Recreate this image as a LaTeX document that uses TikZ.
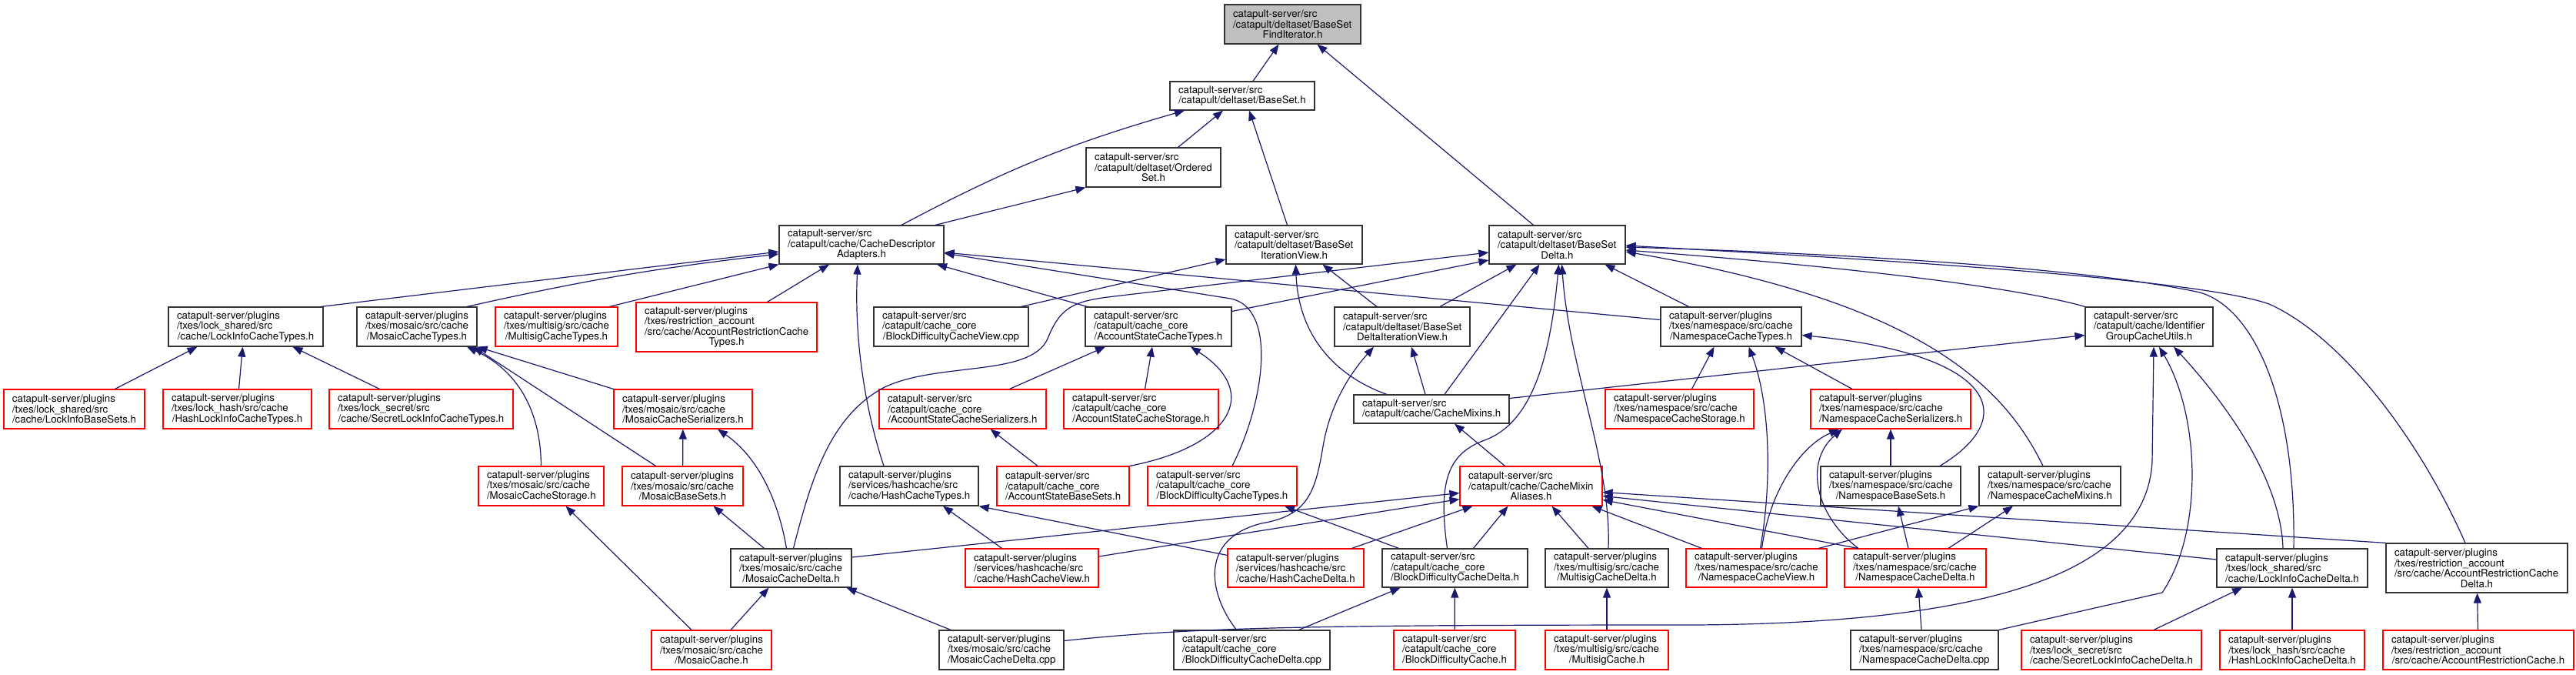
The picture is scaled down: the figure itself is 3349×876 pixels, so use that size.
\documentclass[tikz,border=0pt]{standalone}
\usepackage{fontspec}
\setmainfont{TeX Gyre Heros}
\usetikzlibrary{arrows.meta,calc}
\definecolor{edgecol}{RGB}{25,25,112}
\hyphenpenalty=10000
\exhyphenpenalty=10000
\newcommand{\lastln}[1]{\leavevmode\vrule width 0pt\nobreak\hskip 0pt plus 1filll\relax #1\nobreak\hskip 0pt plus 1filll\relax\vrule width 0pt}
\newcommand{\mynode}[7]{%
 \pgfmathsetmacro{\ndW}{#4-#2}\pgfmathsetmacro{\ndH}{#5-#3}%
 \pgfmathsetmacro{\ndX}{(#2+#4)/2}\pgfmathsetmacro{\ndY}{(#3+#5)/2}%
 \pgfmathsetmacro{\ndT}{#4-#2-22}%
 \node[#6, minimum width=\ndW pt, minimum height=\ndH pt, text width=\ndT pt] (#1) at (\ndX,\ndY) {#7};}
\begin{document}
\begin{tikzpicture}[x=1pt,y=-1pt,
  box/.style={draw=black!80, line width=1.2pt, inner xsep=11pt, inner ysep=0pt, align=left,
    font=\fontsize{13.3}{13.5}\selectfont, fill=white},
  redbox/.style={box, draw=red},
  rootbox/.style={box, fill=black!25},
  dep/.style={draw=edgecol, line width=1.2pt, line join=round, -{Triangle[length=13pt,width=10pt]}}]
\fill[white] (0,0) rectangle (3349,876);
\useasboundingbox (0,0) rectangle (3349,876);
% row 0-3
\mynode{root}{1592}{6}{1769}{57}{rootbox}{catapult-server/src\\/catapult/deltaset/BaseSet\\\lastln{FindIterator.h}}
\mynode{BaseSet}{1521}{106}{1709}{143}{box}{catapult-server/src\\\lastln{/catapult/deltaset/BaseSet.h}}
\mynode{OrderedSet}{1412}{192}{1587}{243}{box}{catapult-server/src\\/catapult/deltaset/Ordered\\\lastln{Set.h}}
\mynode{CDA}{1013}{293}{1227}{343}{box}{catapult-server/src\\/catapult/cache/CacheDescriptor\\\lastln{Adapters.h}}
\mynode{BSIV}{1594}{293}{1771}{343}{box}{catapult-server/src\\/catapult/deltaset/BaseSet\\\lastln{IterationView.h}}
\mynode{BSD}{1936}{293}{2113}{343}{box}{catapult-server/src\\/catapult/deltaset/BaseSet\\\lastln{Delta.h}}
% row 4
\mynode{LICT}{219}{399}{420}{450}{box}{catapult-server/plugins\\/txes/lock\_shared/src\\\lastln{/cache/LockInfoCacheTypes.h}}
\mynode{MCT}{464}{399}{620}{450}{box}{catapult-server/plugins\\/txes/mosaic/src/cache\\\lastln{/MosaicCacheTypes.h}}
\mynode{MuCT}{644}{399}{803}{450}{redbox}{catapult-server/plugins\\/txes/multisig/src/cache\\\lastln{/MultisigCacheTypes.h}}
\mynode{ARCT}{827}{393}{1062}{457}{redbox}{catapult-server/plugins\\/txes/restriction\_account\\/src/cache/AccountRestrictionCache\\\lastln{Types.h}}
\mynode{BDCV}{1136}{399}{1337}{450}{box}{catapult-server/src\\/catapult/cache\_core\\\lastln{/BlockDifficultyCacheView.cpp}}
\mynode{ASCT}{1411}{399}{1601}{450}{box}{catapult-server/src\\/catapult/cache\_core\\\lastln{/AccountStateCacheTypes.h}}
\mynode{BSDIV}{1735}{399}{1911}{450}{box}{catapult-server/src\\/catapult/deltaset/BaseSet\\\lastln{DeltaIterationView.h}}
\mynode{NCT}{2159}{399}{2342}{450}{box}{catapult-server/plugins\\/txes/namespace/src/cache\\\lastln{/NamespaceCacheTypes.h}}
\mynode{IGCU}{2711}{399}{2877}{450}{box}{catapult-server/src\\/catapult/cache/Identifier\\\lastln{GroupCacheUtils.h}}
% row 5
\mynode{LIBS}{5}{506}{188}{557}{redbox}{catapult-server/plugins\\/txes/lock\_shared/src\\\lastln{/cache/LockInfoBaseSets.h}}
\mynode{HLICT}{212}{506}{405}{557}{redbox}{catapult-server/plugins\\/txes/lock\_hash/src/cache\\\lastln{/HashLockInfoCacheTypes.h}}
\mynode{SLICT}{428}{506}{667}{557}{redbox}{catapult-server/plugins\\/txes/lock\_secret/src\\\lastln{/cache/SecretLockInfoCacheTypes.h}}
\mynode{MCS}{798}{506}{978}{557}{redbox}{catapult-server/plugins\\/txes/mosaic/src/cache\\\lastln{/MosaicCacheSerializers.h}}
\mynode{ASCS}{1143}{506}{1360}{557}{redbox}{catapult-server/src\\/catapult/cache\_core\\\lastln{/AccountStateCacheSerializers.h}}
\mynode{ASCSt}{1383}{506}{1584}{557}{redbox}{catapult-server/src\\/catapult/cache\_core\\\lastln{/AccountStateCacheStorage.h}}
\mynode{CM}{1760}{513}{1962}{550}{box}{catapult-server/src\\\lastln{/catapult/cache/CacheMixins.h}}
\mynode{NCSt}{2087}{506}{2280}{557}{redbox}{catapult-server/plugins\\/txes/namespace/src/cache\\\lastln{/NamespaceCacheStorage.h}}
\mynode{NCSer}{2354}{506}{2562}{557}{redbox}{catapult-server/plugins\\/txes/namespace/src/cache\\\lastln{/NamespaceCacheSerializers.h}}
% row 6
\mynode{MCSt}{622}{606}{785}{657}{redbox}{catapult-server/plugins\\/txes/mosaic/src/cache\\\lastln{/MosaicCacheStorage.h}}
\mynode{MBS}{809}{606}{966}{657}{redbox}{catapult-server/plugins\\/txes/mosaic/src/cache\\\lastln{/MosaicBaseSets.h}}
\mynode{HCT}{1092}{606}{1272}{657}{box}{catapult-server/plugins\\/services/hashcache/src\\\lastln{/cache/HashCacheTypes.h}}
\mynode{ASBS}{1296}{606}{1468}{657}{redbox}{catapult-server/src\\/catapult/cache\_core\\\lastln{/AccountStateBaseSets.h}}
\mynode{BDCT}{1492}{606}{1686}{657}{redbox}{catapult-server/src\\/catapult/cache\_core\\\lastln{/BlockDifficultyCacheTypes.h}}
\mynode{CMA}{1898}{606}{2083}{657}{redbox}{catapult-server/src\\/catapult/cache/CacheMixin\\\lastln{Aliases.h}}
\mynode{NBS}{2367}{606}{2549}{657}{box}{catapult-server/plugins\\/txes/namespace/src/cache\\\lastln{/NamespaceBaseSets.h}}
\mynode{NCM}{2573}{606}{2757}{657}{box}{catapult-server/plugins\\/txes/namespace/src/cache\\\lastln{/NamespaceCacheMixins.h}}
% row 7
\mynode{MCD}{950}{713}{1107}{763}{box}{catapult-server/plugins\\/txes/mosaic/src/cache\\\lastln{/MosaicCacheDelta.h}}
\mynode{HCV}{1255}{713}{1428}{763}{redbox}{catapult-server/plugins\\/services/hashcache/src\\\lastln{/cache/HashCacheView.h}}
\mynode{HCD}{1596}{713}{1773}{763}{redbox}{catapult-server/plugins\\/services/hashcache/src\\\lastln{/cache/HashCacheDelta.h}}
\mynode{BDCD}{1797}{713}{1986}{763}{box}{catapult-server/src\\/catapult/cache\_core\\\lastln{/BlockDifficultyCacheDelta.h}}
\mynode{MuCD}{2009}{713}{2169}{763}{box}{catapult-server/plugins\\/txes/multisig/src/cache\\\lastln{/MultisigCacheDelta.h}}
\mynode{NCV}{2192}{713}{2375}{763}{redbox}{catapult-server/plugins\\/txes/namespace/src/cache\\\lastln{/NamespaceCacheView.h}}
\mynode{NCD}{2398}{713}{2582}{763}{redbox}{catapult-server/plugins\\/txes/namespace/src/cache\\\lastln{/NamespaceCacheDelta.h}}
\mynode{LICD}{2882}{713}{3078}{763}{box}{catapult-server/plugins\\/txes/lock\_shared/src\\\lastln{/cache/LockInfoCacheDelta.h}}
\mynode{ARCD}{3102}{706}{3338}{770}{box}{catapult-server/plugins\\/txes/restriction\_account\\/src/cache/AccountRestrictionCache\\\lastln{Delta.h}}
% row 8
\mynode{MC}{847}{819}{1003}{870}{redbox}{catapult-server/plugins\\/txes/mosaic/src/cache\\\lastln{/MosaicCache.h}}
\mynode{MCDcpp}{1221}{819}{1383}{870}{box}{catapult-server/plugins\\/txes/mosaic/src/cache\\\lastln{/MosaicCacheDelta.cpp}}
\mynode{BDCDcpp}{1526}{819}{1729}{870}{box}{catapult-server/src\\/catapult/cache\_core\\\lastln{/BlockDifficultyCacheDelta.cpp}}
\mynode{BDC}{1812}{819}{1970}{870}{redbox}{catapult-server/src\\/catapult/cache\_core\\\lastln{/BlockDifficultyCache.h}}
\mynode{MuC}{2009}{819}{2169}{870}{redbox}{catapult-server/plugins\\/txes/multisig/src/cache\\\lastln{/MultisigCache.h}}
\mynode{NCDcpp}{2406}{819}{2598}{870}{box}{catapult-server/plugins\\/txes/namespace/src/cache\\\lastln{/NamespaceCacheDelta.cpp}}
\mynode{SLICD}{2628}{819}{2862}{870}{redbox}{catapult-server/plugins\\/txes/lock\_secret/src\\\lastln{/cache/SecretLockInfoCacheDelta.h}}
\mynode{HLICD}{2886}{819}{3074}{870}{redbox}{catapult-server/plugins\\/txes/lock\_hash/src/cache\\\lastln{/HashLockInfoCacheDelta.h}}
\mynode{ARC}{3098}{819}{3346}{870}{redbox}{catapult-server/plugins\\/txes/restriction\_account\\\lastln{/src/cache/AccountRestrictionCache.h}}
% ---------- edges ----------
% to root
\draw[dep] ($(BaseSet.north)+(14,0)$) -- ($(root.south)+(-18,0)$);
\draw[dep] ($(BSD.north)+(-31,0)$) -- ($(root.south)+(32,0)$);
% to BaseSet
\draw[dep] ($(CDA.north)+(52,0)$) to[bend left=6] ($(BaseSet.south)+(-75,0)$);
\draw[dep] ($(OrderedSet.north)+(32,0)$) -- ($(BaseSet.south)+(-25,0)$);
\draw[dep] ($(BSIV.north)+(-9,0)$) -- ($(BaseSet.south)+(9,0)$);
% to OrderedSet
\draw[dep] ($(CDA.north)+(96,0)$) -- (OrderedSet.south west);
% to CDA
\draw[dep] ($(LICT.north)+(98,0)$) -- ($(CDA.west)+(0,9)$);
\draw[dep] ($(MCT.north)+(65,0)$) to[bend left=3] ($(CDA.west)+(0,12)$);
\draw[dep] ($(MuCT.north)+(69,0)$) -- (CDA.south west);
\draw[dep] ($(ARCT.north)+(53,0)$) -- ($(CDA.south)+(-42,0)$);
\draw[dep] ($(HCT.north)+(-33,0)$) .. controls +(-20,-60) and +(-5,110) .. ($(CDA.south)+(-5,0)$);
\draw[dep] ($(ASCT.north west)+(3,0)$) -- ($(CDA.south)+(98,0)$);
\draw[dep] ($(NCT.west)+(0,-9)$) -- ($(CDA.east)+(0,10)$);
\draw[dep] ($(BDCT.north)+(13,0)$) .. controls (1645,520) and (1660,400) .. (1600,388) -- ($(CDA.east)+(0,11)$);
% to BSIV
\draw[dep] ($(BDCV.north)+(91,0)$) -- ($(BSIV.west)+(0,19)$);
\draw[dep] ($(BSDIV.north)+(-33,0)$) -- ($(BSIV.south)+(37,0)$);
\draw[dep] ($(CM.north)+(-58,0)$) .. controls (1740,490) and (1688,440) .. ($(BSIV.south)+(2,0)$);
% to BSD
\draw[dep] ($(MCD.north)+(3,0)$) .. controls (1055,620) and (1080,540) .. (1150,503) .. controls (1220,470) and (1340,490) .. (1362,440) .. controls (1378,400) and (1395,392) .. (1440,386) -- ($(BSD.west)+(0,10)$);
\draw[dep] ($(ASCT.east)+(0,-20)$) -- ($(BSD.west)+(0,20)$);
\draw[dep] ($(BSDIV.north)+(49,0)$) -- ($(BSD.south)+(-53,0)$);
\draw[dep] ($(CM.north)+(17,0)$) -- ($(BSD.south)+(-23,0)$);
\draw[dep] ($(BDCD.north)+(-10,0)$) .. controls (1870,630) and (1880,590) .. (1930,572) .. controls (1990,550) and (2015,470) .. ($(BSD.south)+(2,0)$);
\draw[dep] ($(MuCD.north)+(2,0)$) .. controls (2095,600) and (2040,480) .. ($(BSD.south)+(6,0)$);
\draw[dep] ($(NCT.north)+(-55,0)$) -- ($(BSD.south)+(62,0)$);
\draw[dep] (IGCU.north west) .. controls (2640,378) and (2450,350) .. ($(BSD.east)+(0,7)$);
\draw[dep] ($(NCM.north)+(-9,0)$) .. controls (2600,490) and (2480,390) .. ($(BSD.east)+(0,9)$);
\draw[dep] ($(LICD.north)+(2,0)$) .. controls (2985,520) and (2930,400) .. (2860,380) .. controls (2700,345) and (2350,328) .. ($(BSD.east)+(0,3)$);
\draw[dep] ($(ARCD.north)+(-15,0)$) .. controls (3150,580) and (3050,440) .. (2950,395) .. controls (2850,360) and (2400,335) .. ($(BSD.east)+(0,1)$);
% to LICT
\draw[dep] ($(LIBS.north)+(53,0)$) -- ($(LICT.south)+(-63,0)$);
\draw[dep] ($(HLICT.north)+(2,0)$) -- ($(LICT.south)+(-4,0)$);
\draw[dep] ($(SLICT.north)+(-54,0)$) -- ($(LICT.south)+(61,0)$);
% to MCT
\draw[dep] (MCSt.north) .. controls (703,530) and (670,480) .. ($(MCT.south)+(65,0)$);
\draw[dep] ($(MBS.north)+(-35,0)$) -- ($(MCT.south east)+(-5,0)$);
\draw[dep] (MCS.north west) -- (MCT.south east);
% mosaic
\draw[dep] (MBS) -- (MCS);
\draw[dep] ($(MCD.north)+(-6,0)$) .. controls (1010,640) and (980,590) .. ($(MCS.south)+(45,0)$);
\draw[dep] ($(MCD.north)+(-35,0)$) -- ($(MBS.south)+(40,0)$);
\draw[dep] ($(MC.north)+(-26,0)$) -- ($(MCSt.south)+(32,0)$);
\draw[dep] ($(MC.north)+(25,0)$) -- ($(MCD.south)+(-29,0)$);
\draw[dep] ($(MCDcpp.north)+(-66,0)$) -- ($(MCD.south)+(72,0)$);
% to CMA
\draw[dep] ($(MCD.east)+(0,-14)$) -- ($(CMA.west)+(0,9)$);
\draw[dep] ($(HCV.east)+(0,-15)$) -- ($(CMA.west)+(0,17)$);
\draw[dep] ($(HCD.north)+(73,0)$) -- ($(CMA.south)+(-76,0)$);
\draw[dep] ($(BDCD.north)+(24,0)$) -- ($(CMA.south)+(-30,0)$);
\draw[dep] ($(MuCD.north)+(-24,0)$) -- ($(CMA.south)+(27,0)$);
\draw[dep] ($(NCV.north)+(-71,0)$) -- ($(CMA.south)+(79,0)$);
\draw[dep] ($(NCD.north west)+(18,0)$) -- ($(CMA.east)+(0,18)$);
\draw[dep] ($(LICD.west)+(0,-11)$) -- ($(CMA.east)+(0,13)$);
\draw[dep] (ARCD.north west) -- ($(CMA.east)+(0,8)$);
% hash
\draw[dep] ($(HCV.north)+(-39,0)$) -- ($(HCT.south)+(44,0)$);
\draw[dep] ($(HCD.north west)+(0,9)$) -- (HCT.south east);
\draw[dep] ($(BDCD.north)+(-73,0)$) -- ($(BDCT.south)+(81,0)$);
% CM
\draw[dep] ($(CMA.north)+(-34,0)$) -- ($(CM.south)+(30,0)$);
\draw[dep] ($(CM.north)+(-8,0)$) -- ($(BSDIV.south)+(12,0)$);
\draw[dep] ($(BDCDcpp.north)+(-20,0)$) .. controls (1570,770) and (1560,700) .. (1640,680) .. controls (1700,670) and (1710,640) .. (1720,580) .. controls (1730,520) and (1760,480) .. ($(BSDIV.south)+(-37,0)$);
\draw[dep] ($(CM.east)+(0,-14)$) -- ($(IGCU.west)+(0,11)$);
% namespace
\draw[dep] ($(NCSt.north)+(16,0)$) -- ($(NCT.south)+(-22,0)$);
\draw[dep] ($(NCV.north)+(5,0)$) .. controls (2305,620) and (2300,520) .. ($(NCT.south)+(23,0)$);
\draw[dep] ($(NCSer.north)+(-50,0)$) -- ($(NCT.south)+(57,0)$);
\draw[dep] ($(NBS.north)+(64,0)$) .. controls (2630,540) and (2590,460) .. ($(NCT.east)+(0,11)$);
\draw[dep] (NBS) -- (NCSer);
\draw[dep] ($(NCV.north)+(7,0)$) .. controls (2300,640) and (2340,580) .. ($(NCSer.south)+(-67,0)$);
\draw[dep] ($(NCD.north)+(-74,0)$) .. controls (2360,670) and (2345,600) .. ($(NCSer.south)+(-63,0)$);
\draw[dep] ($(NCD.north)+(-9,0)$) -- ($(NBS.south)+(10,0)$);
\draw[dep] ($(NCD.north)+(43,0)$) -- ($(NCM.south)+(-48,0)$);
\draw[dep] ($(NCV.north)+(81,0)$) -- (NCM.south west);
% IGCU
\draw[dep] (NCDcpp.north east) -- (2811,770) .. controls (2865,690) and (2860,540) .. ($(IGCU.south)+(13,0)$);
\draw[dep] ($(MCDcpp.east)+(0,-12)$) .. controls (1550,815) and (1700,812) .. (2200,812) .. controls (2600,810) and (2790,740) .. (2798,600) -- ($(IGCU.south)+(6,0)$);
\draw[dep] ($(LICD.north)+(-12,0)$) .. controls (2965,620) and (2890,520) .. ($(IGCU.south)+(32,0)$);
% ASCT
\draw[dep] ($(ASCS.north)+(61,0)$) -- ($(ASCT.south)+(-69,0)$);
\draw[dep] ($(ASCSt.north)+(5,0)$) -- ($(ASCT.south)+(-8,0)$);
\draw[dep] (ASBS.north east) .. controls (1600,580) and (1640,510) .. ($(ASCT.south)+(42,0)$);
\draw[dep] ($(ASBS.north)+(-33,0)$) -- ($(ASCS.south)+(36,0)$);
% bottom row
\draw[dep] ($(BDCDcpp.north)+(61,0)$) -- ($(BDCD.south)+(-71,0)$);
\draw[dep] (BDC) -- (BDCD);
\draw[dep] (MuC) -- (MuCD);
\draw[dep] ($(NCDcpp.north)+(-4,0)$) -- ($(NCD.south)+(4,0)$);
\draw[dep] ($(SLICD.north)+(55,0)$) -- ($(LICD.south)+(-65,0)$);
\draw[dep] (HLICD) -- (LICD);
\draw[dep] (ARC) -- (ARCD);
\end{tikzpicture}
\end{document}
